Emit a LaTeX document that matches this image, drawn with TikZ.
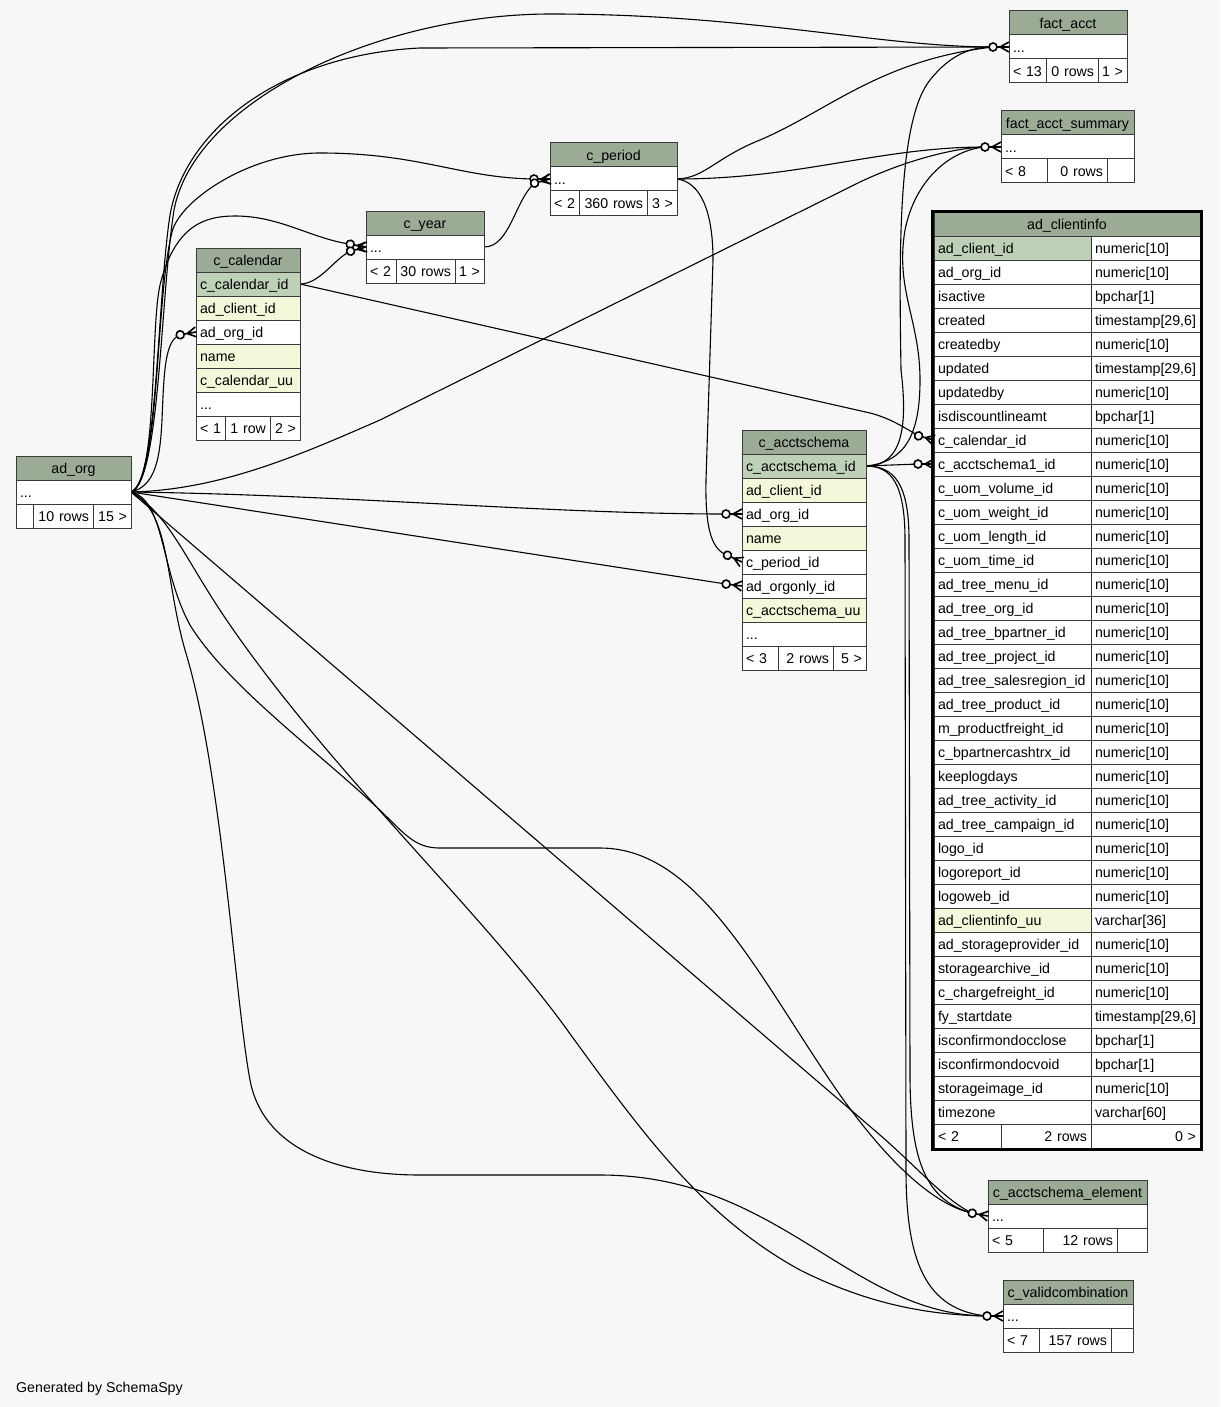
\documentclass[tikz,border=0pt]{standalone}
\usepackage{fontspec}
\setmainfont{Liberation Sans}
\usetikzlibrary{calc}
\definecolor{bgc}{HTML}{F7F7F7}
\definecolor{hdr}{HTML}{9BAB96}
\definecolor{pkc}{HTML}{BED1B8}
\definecolor{idx}{HTML}{F4F7DA}
\definecolor{boxc}{HTML}{3A3A3A}
\pgfdeclarelayer{bglayer}
\pgfdeclarelayer{edges}
\pgfsetlayers{bglayer,edges,main}
\newcommand\cell[7]{%
  \pgfmathsetmacro\cellw{#4-8}%
  \node[cellbox,fill=#5,align=#6,text width=\cellw pt] (#1) at (#2,#3) {\mbox{#7}};%
}
\newcommand\mk[3]{%
  \begin{scope}[shift={(#2)},rotate=#3]
    \coordinate (#1) at (-16,0);
    \draw[mkline] (-12,0) -- (0,0) (-9,0) -- (0,5) (-9,0) -- (0,-5);
    \draw[mkline,fill=bgc] (-16,0) circle[radius=4];
  \end{scope}}
\begin{document}
\begin{tikzpicture}[x=1pt,y=-1pt,
  conn/.style={line width=1.1pt,black},
  mkline/.style={line width=1.6pt,black},
  cellbox/.style={draw=boxc,line width=1pt,anchor=north west,inner xsep=4pt,inner ysep=0pt,
    outer sep=0pt,minimum height=24pt,text height=12.5pt,text depth=1.5pt,
    font=\fontsize{14.2}{17}\selectfont}]
\begin{pgfonlayer}{bglayer}
\fill[bgc] (0,0) rectangle (1220,1407);
\end{pgfonlayer}
\useasboundingbox (0,0) rectangle (1220,1407);

% ad_org
\cell{ao-h}{16}{456}{115}{hdr}{center}{ad\_org}
\cell{ao-r}{16}{480}{115}{white}{left}{...}
\cell{ao-f1}{16}{504}{17}{white}{left}{}
\cell{ao-f2}{33}{504}{60}{white}{right}{10 rows}
\cell{ao-f3}{93}{504}{38}{white}{right}{15 >}

% c_calendar
\cell{cc-h}{196}{248}{104}{hdr}{center}{c\_calendar}
\cell{cc-pk}{196}{272}{104}{pkc}{left}{c\_calendar\_id}
\cell{cc-cl}{196}{296}{104}{idx}{left}{ad\_client\_id}
\cell{cc-org}{196}{320}{104}{white}{left}{ad\_org\_id}
\cell{cc-nm}{196}{344}{104}{idx}{left}{name}
\cell{cc-uu}{196}{368}{104}{idx}{left}{c\_calendar\_uu}
\cell{cc-r}{196}{392}{104}{white}{left}{...}
\cell{cc-f1}{196}{416}{29}{white}{left}{< 1}
\cell{cc-f2}{225}{416}{45}{white}{right}{1 row}
\cell{cc-f3}{270}{416}{30}{white}{right}{2 >}

% c_year
\cell{cy-h}{366}{211}{118}{hdr}{center}{c\_year}
\cell{cy-r}{366}{235}{118}{white}{left}{...}
\cell{cy-f1}{366}{259}{30}{white}{left}{< 2}
\cell{cy-f2}{396}{259}{59}{white}{right}{30 rows}
\cell{cy-f3}{455}{259}{29}{white}{right}{1 >}

% c_period
\cell{cp-h}{550}{143}{127}{hdr}{center}{c\_period}
\cell{cp-r}{550}{167}{127}{white}{left}{...}
\cell{cp-f1}{550}{191}{29}{white}{left}{< 2}
\cell{cp-f2}{579}{191}{68}{white}{right}{360 rows}
\cell{cp-f3}{647}{191}{30}{white}{right}{3 >}

% fact_acct
\cell{fa-h}{1009}{11}{118}{hdr}{center}{fact\_acct}
\cell{fa-r}{1009}{35}{118}{white}{left}{...}
\cell{fa-f1}{1009}{59}{37}{white}{left}{< 13}
\cell{fa-f2}{1046}{59}{52}{white}{right}{0 rows}
\cell{fa-f3}{1098}{59}{29}{white}{right}{1 >}

% fact_acct_summary
\cell{fas-h}{1001}{111}{133}{hdr}{center}{fact\_acct\_summary}
\cell{fas-r}{1001}{135}{133}{white}{left}{...}
\cell{fas-f1}{1001}{159}{46}{white}{left}{< 8}
\cell{fas-f2}{1047}{159}{60}{white}{right}{0 rows}
\cell{fas-f3}{1107}{159}{27}{white}{right}{}

% c_acctschema
\cell{ca-h}{742}{430}{124}{hdr}{center}{c\_acctschema}
\cell{ca-pk}{742}{454}{124}{pkc}{left}{c\_acctschema\_id}
\cell{ca-cl}{742}{478}{124}{idx}{left}{ad\_client\_id}
\cell{ca-org}{742}{502}{124}{white}{left}{ad\_org\_id}
\cell{ca-nm}{742}{526}{124}{idx}{left}{name}
\cell{ca-per}{742}{550}{124}{white}{left}{c\_period\_id}
\cell{ca-oo}{742}{574}{124}{white}{left}{ad\_orgonly\_id}
\cell{ca-uu}{742}{598}{124}{idx}{left}{c\_acctschema\_uu}
\cell{ca-r}{742}{622}{124}{white}{left}{...}
\cell{ca-f1}{742}{646}{36}{white}{left}{< 3}
\cell{ca-f2}{778}{646}{55}{white}{right}{2 rows}
\cell{ca-f3}{833}{646}{33}{white}{right}{5 >}

% c_acctschema_element
\cell{cae-h}{988}{1180}{159}{hdr}{center}{c\_acctschema\_element}
\cell{cae-r}{988}{1204}{159}{white}{left}{...}
\cell{cae-f1}{988}{1228}{55}{white}{left}{< 5}
\cell{cae-f2}{1043}{1228}{74}{white}{right}{12 rows}
\cell{cae-f3}{1117}{1228}{30}{white}{right}{}

% c_validcombination
\cell{cvc-h}{1003}{1280}{130}{hdr}{center}{c\_validcombination}
\cell{cvc-r}{1003}{1304}{130}{white}{left}{...}
\cell{cvc-f1}{1003}{1328}{36}{white}{left}{< 7}
\cell{cvc-f2}{1039}{1328}{72}{white}{right}{157 rows}
\cell{cvc-f3}{1111}{1328}{22}{white}{right}{}

% ad_clientinfo
\cell{ci-h}{934}{212}{266}{hdr}{center}{ad\_clientinfo}
\foreach \nm/\ty/\fc [count=\i from 0] in {
ad\_client\_id/numeric[10]/pkc,
ad\_org\_id/numeric[10]/white,
isactive/bpchar[1]/white,
created/timestamp[29{,}6]/white,
createdby/numeric[10]/white,
updated/timestamp[29{,}6]/white,
updatedby/numeric[10]/white,
isdiscountlineamt/bpchar[1]/white,
c\_calendar\_id/numeric[10]/white,
c\_acctschema1\_id/numeric[10]/white,
c\_uom\_volume\_id/numeric[10]/white,
c\_uom\_weight\_id/numeric[10]/white,
c\_uom\_length\_id/numeric[10]/white,
c\_uom\_time\_id/numeric[10]/white,
ad\_tree\_menu\_id/numeric[10]/white,
ad\_tree\_org\_id/numeric[10]/white,
ad\_tree\_bpartner\_id/numeric[10]/white,
ad\_tree\_project\_id/numeric[10]/white,
ad\_tree\_salesregion\_id/numeric[10]/white,
ad\_tree\_product\_id/numeric[10]/white,
m\_productfreight\_id/numeric[10]/white,
c\_bpartnercashtrx\_id/numeric[10]/white,
keeplogdays/numeric[10]/white,
ad\_tree\_activity\_id/numeric[10]/white,
ad\_tree\_campaign\_id/numeric[10]/white,
logo\_id/numeric[10]/white,
logoreport\_id/numeric[10]/white,
logoweb\_id/numeric[10]/white,
ad\_clientinfo\_uu/varchar[36]/idx,
ad\_storageprovider\_id/numeric[10]/white,
storagearchive\_id/numeric[10]/white,
c\_chargefreight\_id/numeric[10]/white,
fy\_startdate/timestamp[29{,}6]/white,
isconfirmondocclose/bpchar[1]/white,
isconfirmondocvoid/bpchar[1]/white,
storageimage\_id/numeric[10]/white,
timezone/varchar[60]/white}
{
  \pgfmathsetmacro\yy{236+24*\i}
  \cell{ci-\i-n}{934}{\yy}{157}{\fc}{left}{\nm}
  \cell{ci-\i-t}{1091}{\yy}{109}{white}{left}{\ty}
}
\cell{ci-f1}{934}{1124}{67}{white}{left}{< 2}
\cell{ci-f2}{1001}{1124}{90}{white}{right}{2 rows}
\cell{ci-f3}{1091}{1124}{109}{white}{right}{0 >}
\draw[line width=3pt,black] (932.5,211.5) rectangle (1201.5,1149.5);

% markers
\mk{m-fa}{fa-r.west}{0}
\mk{m-fas}{fas-r.west}{0}
\mk{m-cp1}{cp-r.west}{0}
\mk{m-cp2}{cp-r.west}{15}
\mk{m-cy1}{cy-r.west}{-10}
\mk{m-cy2}{cy-r.west}{15}
\mk{m-cc}{cc-org.west}{10}
\mk{m-ci8}{ci-8-n.west}{-15}
\mk{m-ci9}{ci-9-n.west}{0}
\mk{m-caorg}{ca-org.west}{0}
\mk{m-caper}{ca-per.west}{-25}
\mk{m-caoo}{ca-oo.west}{-7}
\mk{m-cae}{cae-r.west}{-10}
\mk{m-cvc}{cvc-r.west}{0}

\begin{pgfonlayer}{edges}
% ad_org -> fact_acct
\draw[conn] (ao-r.east) .. controls (160,482) and (160,300) .. (174,210) .. controls (195,100) and (380,14) .. (551,14) .. controls (750,14) and (880,47) .. (m-fa);
\draw[conn] (ao-r.east) .. controls (158,482) and (157,300) .. (170,215) .. controls (185,130) and (280,55) .. (420,48) -- (m-fa);
% ad_org -> c_period
\draw[conn] (ao-r.east) .. controls (160,482) and (155,300) .. (172,232) .. controls (180,200) and (250,153) .. (320,153) .. controls (420,153) and (460,178) .. (m-cp1);
% ad_org -> c_year
\draw[conn] (ao-r.east) .. controls (158,482) and (150,330) .. (160,285) .. controls (175,225) and (205,216) .. (235,216) .. controls (280,216) and (310,238) .. (m-cy1);
% ad_org -> c_calendar
\draw[conn] (ao-r.east) .. controls (155,486) and (160,460) .. (162,420) .. controls (164,370) and (165,340) .. (m-cc);
% ad_org -> fact_acct_summary
\draw[conn] (ao-r.east) .. controls (220,490) and (300,455) .. (380,420) -- (860,182) .. controls (900,163) and (950,148) .. (m-fas);
% ad_org -> c_acctschema
\draw[conn] (ao-r.east) .. controls (350,495) and (550,514) .. (m-caorg);
\draw[conn] (ao-r.east) -- (m-caoo);
% ad_org -> c_acctschema_element
\draw[conn] (ao-r.east) -- (880,1135) .. controls (920,1170) and (945,1200) .. (m-cae);
\draw[conn] (ao-r.east) .. controls (165,500) and (160,570) .. (190,625) .. controls (230,690) and (330,760) .. (390,820) .. controls (410,840) and (420,848) .. (440,848) -- (600,848) .. controls (700,848) and (760,980) .. (840,1095) .. controls (890,1165) and (935,1205) .. (m-cae);
% ad_org -> c_validcombination
\draw[conn] (ao-r.east) .. controls (170,515) and (185,560) .. (230,625) .. controls (330,770) and (470,900) .. (560,1020) .. controls (640,1130) and (700,1215) .. (800,1270) .. controls (870,1305) and (930,1315) .. (m-cvc);
\draw[conn] (ao-r.east) .. controls (170,510) and (165,580) .. (185,650) .. controls (222,770) and (235,1000) .. (250,1080) .. controls (262,1145) and (330,1175) .. (420,1175) -- (600,1175) .. controls (780,1175) and (850,1315) .. (m-cvc);
% c_acctschema -> children
\draw[conn] (ca-pk.east) .. controls (895,466) and (909,485) .. (909,540) -- (910,1080) .. controls (911,1160) and (925,1200) .. (m-cae);
\draw[conn] (ca-pk.east) .. controls (892,466) and (905,485) .. (905,540) -- (906,1170) .. controls (906,1260) and (925,1310) .. (m-cvc);
\draw[conn] (ca-pk.east) .. controls (905,466) and (907,420) .. (901,370) .. controls (899,250) and (898,120) .. (930,80) .. controls (950,55) and (970,47) .. (m-fa);
\draw[conn] (ca-pk.east) .. controls (905,462) and (920,435) .. (920,380) .. controls (920,320) and (895,290) .. (905,230) .. controls (915,180) and (950,150) .. (m-fas);
\draw[conn] (ca-pk.east) -- (m-ci9);
% c_calendar -> children
\draw[conn] (cc-pk.east) -- (870,413) .. controls (890,418) and (905,428) .. (m-ci8);
\draw[conn] (cc-pk.east) .. controls (320,284) and (335,258) .. (m-cy2);
% c_year -> c_period
\draw[conn] (cy-r.east) .. controls (510,247) and (515,200) .. (m-cp2);
% c_period -> children
\draw[conn] (cp-r.east) .. controls (800,179) and (880,147) .. (m-fas);
\draw[conn] (cp-r.east) .. controls (705,178) and (715,158) .. (760,140) .. controls (830,110) and (880,60) .. (m-fa);
\draw[conn] (cp-r.east) .. controls (700,182) and (713,210) .. (713,260) -- (706,480) .. controls (705,530) and (712,550) .. (m-caper);
\end{pgfonlayer}

\node[anchor=base west,inner sep=0pt,font=\fontsize{14.2}{17}\selectfont] (gen) at (16,1392) {Generated by SchemaSpy};
\end{tikzpicture}
\end{document}
